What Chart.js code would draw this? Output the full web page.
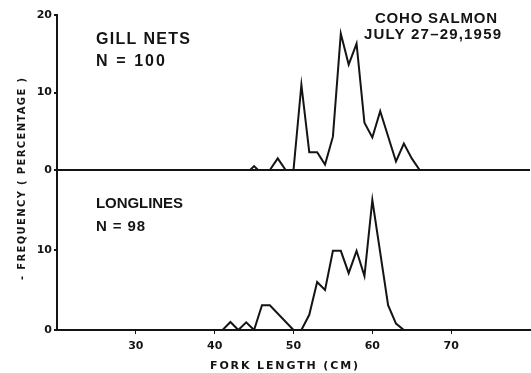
<!DOCTYPE html>
<html>
<head>
<meta charset="utf-8">
<title>Coho salmon fork length</title>
<script src="https://cdn.jsdelivr.net/npm/chart.js@4.4.0/dist/chart.umd.min.js"></script>
<style>
  html, body { margin: 0; padding: 0; background: #fff; }
  #wrap { width: 531px; height: 373px; }
</style>
</head>
<body>
<div id="wrap"><canvas id="chart" width="531" height="373"></canvas></div>
<script>
// fork length (cm) and frequency (%)
const gillLength = [44.5, 45, 45.5, 47, 48, 49, 50, 51, 52, 53, 54, 55, 56, 57, 58, 59, 60, 61, 63, 64, 65, 66];
const gillPct = [0, 0.5, 0, 0, 1.5, 0, 0, 11, 2.3, 2.3, 0.7, 4.3, 17.6, 13.6, 16.3, 6.1, 4.2, 7.6, 1.1, 3.4, 1.5, 0];

const longLength = [41, 42, 43, 44, 45, 46, 47, 50, 51, 52, 53, 54, 55, 56, 57, 58, 59, 60, 62, 63, 64];
const longPct = [0, 1, 0, 0.95, 0, 3.1, 3.1, 0, 0, 1.9, 6, 5, 9.9, 9.9, 7.1, 9.9, 6.75, 16.25, 3.1, 0.8, 0];

const xTicks = [30, 40, 50, 60, 70];
const gillTicks = [0, 10, 20];
const longTicks = [0, 10];

const INK = "#141414";
const FONT = '"DejaVu Sans", sans-serif';
const LETTER = '"Liberation Sans", Arial, sans-serif';
const tickFont = { family: FONT, size: 11, weight: "bold" };

function points(xs, ys) {
  return xs.map((x, i) => ({ x: x, y: ys[i] }));
}

// spread text so it fills x0..x1 (lettering in the original is wide)
function fitText(ctx, text, x0, x1, y, size, family) {
  ctx.font = "bold " + size + "px " + family;
  ctx.letterSpacing = "0px";
  const natural = ctx.measureText(text).width;
  const gap = (x1 - x0 - natural) / Math.max(text.length - 1, 1);
  ctx.letterSpacing = gap + "px";
  ctx.textAlign = "left";
  ctx.fillText(text, x0, y);
  ctx.letterSpacing = "0px";
}

const labelsPlugin = {
  id: "labels",
  afterDraw(chart) {
    const ctx = chart.ctx;
    ctx.save();
    ctx.fillStyle = INK;
    ctx.textBaseline = "middle";
    fitText(ctx, "GILL NETS", 96, 190, 40, 16, LETTER);
    fitText(ctx, "N = 100", 96, 165, 62, 16, LETTER);
    fitText(ctx, "COHO SALMON", 375, 497, 19, 15, LETTER);
    fitText(ctx, "JULY 27–29,1959", 364, 501, 35, 15, LETTER);
    fitText(ctx, "LONGLINES", 96, 183, 204, 15, LETTER);
    fitText(ctx, "N = 98", 96, 145, 227, 15, LETTER);
    fitText(ctx, "FORK LENGTH (CM)", 210, 358, 366, 11, FONT);
    ctx.translate(22, 179);
    ctx.rotate(-Math.PI / 2);
    fitText(ctx, "- FREQUENCY ( PERCENTAGE )", -101, 101, 0, 10, FONT);
    ctx.restore();
  },
};

function yAxis(ticks, weight, stackWeight) {
  return {
    type: "linear",
    position: "left",
    stack: "freq",
    stackWeight: stackWeight,
    weight: weight,
    min: 0,
    max: 20,
    afterBuildTicks: (s) => {
      s.ticks = ticks.map((v) => ({ value: v }));
    },
    afterFit: (s) => {
      s.width = 57;
    },
    border: { color: INK, width: 2 },
    grid: {
      // only the zero line of the upper panel runs across
      color: (c) => (weight === 2 && c.tick && c.tick.value === 0 ? INK : "rgba(0,0,0,0)"),
      lineWidth: 2,
      tickColor: INK,
      tickLength: 3,
    },
    ticks: { color: INK, font: tickFont, padding: 2 },
  };
}

const ctx = document.getElementById("chart").getContext("2d");
new Chart(ctx, {
  type: "line",
  data: {
    datasets: [
      { label: "Gill nets", data: points(gillLength, gillPct), yAxisID: "yGill" },
      { label: "Longlines", data: points(longLength, longPct), yAxisID: "yLong" },
    ],
  },
  options: {
    responsive: false,
    animation: false,
    layout: { padding: { top: 15, right: 1, left: 0, bottom: 0 } },
    plugins: { legend: { display: false }, tooltip: { enabled: false } },
    elements: {
      point: { radius: 0 },
      line: { borderColor: INK, borderWidth: 2, tension: 0, fill: false },
    },
    scales: {
      x: {
        type: "linear",
        min: 20,
        max: 80,
        afterBuildTicks: (s) => {
          s.ticks = xTicks.map((v) => ({ value: v }));
        },
        afterFit: (s) => {
          s.height = 43;
        },
        border: { color: INK, width: 2 },
        grid: { drawOnChartArea: false, color: INK, tickLength: 4 },
        ticks: { color: INK, font: tickFont, padding: 6, maxRotation: 0 },
      },
      yLong: yAxis(longTicks, 1, 160),
      yGill: yAxis(gillTicks, 2, 155),
    },
  },
  plugins: [labelsPlugin],
});
</script>
</body>
</html>
